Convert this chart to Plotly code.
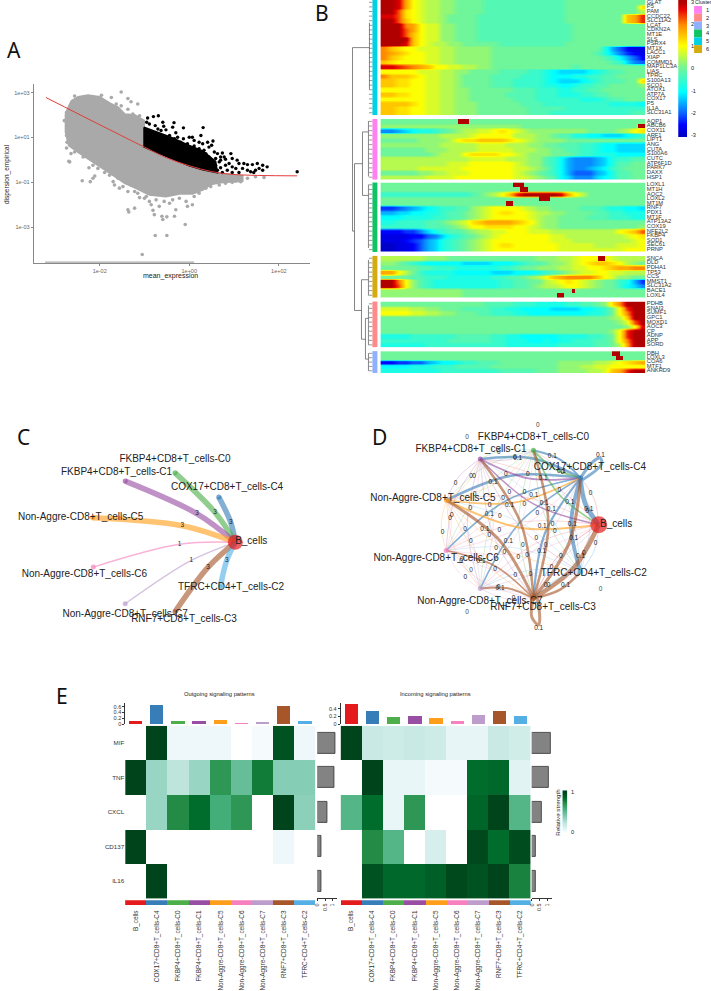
import plotly.graph_objects as go

W, H = 711, 991
SANS = "Liberation Sans"

# ---------- Panel A data (log10 of mean expression / empirical dispersion) ----------
GREY_CLOUD_LOGX = [-2.70,-2.63,-2.48,-2.26,-2.0,-1.78,-1.59,-1.44,-1.22,-1.01,-1.01,-0.59,-0.15,0.22,0.67,1.19,1.19,0.74,0.48,0.30,0.07,-0.22,-0.52,-0.89,-1.19,-1.44,-1.70,-1.93,-2.22,-2.48,-2.69,-2.76,-2.76]
GREY_CLOUD_LOGY = [2.34,2.63,2.81,2.88,2.81,2.53,2.34,2.04,2.0,1.75,0.57,0.13,-0.21,-0.41,-0.59,-0.71,-0.94,-1.0,-1.09,-1.34,-1.51,-1.51,-1.63,-1.56,-1.26,-1.04,-0.68,-0.38,-0.01,0.35,0.65,1.24,2.04]
GREY_LOGX = [-1.52,-1.96,-1.74,-1.37,-1.30,-1.15,-2.39,-2.21,-2.15,-2.11,-2.67,-2.69,-2.64,-2.74,-2.24,-2.0,-1.89,-1.78,-1.67,-1.56,-1.37,-1.11,-0.96,-0.85,-0.67,-0.44,-0.30,-0.04,0.07,-1.37,-1.35,-1.22,-0.81,-0.78,-0.61,-0.59,-0.50,-0.33,-0.09,-0.76,-0.50,-1.05,1.67,1.48,1.30,1.04,
             -2.56,-2.37,-2.43,-2.15,-2.04,-1.85,-1.70,-1.59,-1.48,-1.30,-1.22,-1.15,-1.0,-0.89,-0.74,-0.56,-0.37,-0.22,-0.07,0.11,0.22,0.37,0.48,0.67,0.81,0.96,1.15,-2.56,-1.63,-1.52,-1.37,-1.26,-1.11,-2.74,-2.79,-2.74,-2.73]
GREY_LOGY = [3.03,2.88,2.78,2.74,2.59,2.49,-0.93,-0.97,-0.82,-0.72,-0.09,-0.06,0.28,0.53,-0.35,-0.16,-0.56,-0.68,-1.12,-1.26,-1.41,-1.68,-1.63,-2.0,-2.07,-1.93,-2.22,-2.07,-2.0,-2.22,-2.32,-2.15,-2.25,-2.44,-2.51,-2.66,-2.54,-2.51,-2.88,-3.37,-3.37,-4.22,-0.78,-0.75,-0.82,-0.94,
             0.35,0.13,0.43,-0.24,-0.38,-0.38,-0.97,-0.82,-1.19,-1.12,-1.41,-1.49,-1.71,-1.85,-1.78,-1.85,-1.78,-1.71,-1.85,-1.63,-1.49,-1.26,-1.19,-1.12,-1.04,-1.0,-0.97,2.85,2.49,2.41,2.26,2.04,1.97,2.12,1.75,1.09,0.79]
BOTTOM_RUN_LOGX = [-3.22, 0.11]
BOTTOM_RUN_LOGY = [-4.57, -4.57]
BLACK_CLOUD_LOGX = [-1.01,-0.70,-0.41,0.0,0.30,0.59,0.63,0.30,0.0,-0.44,-0.81,-1.01]
BLACK_CLOUD_LOGY = [1.46,1.24,1.01,0.65,0.40,-0.07,-0.57,-0.44,-0.26,0.09,0.38,0.57]
BLACK_LOGX = [-0.93,-0.95,-0.80,-0.69,-0.76,-0.59,-0.57,-0.34,-0.37,-0.63,-0.52,-0.30,-0.13,0.31,0.26,-0.26,-0.13,0.07,0.11,0.53,0.50,0.44,0.33,0.63,0.74,0.59,0.78,0.81,0.96,0.89,1.07,1.11,0.96,0.70,0.59,1.19,1.30,1.41,1.52,1.64,1.74,1.64,1.30,1.44,1.48,1.11,0.96,0.74,2.41,0.30,0.19,-0.04,-0.22,0.48,
              -0.89,-0.70,-0.44,-0.33,-0.19,-0.07,0.11,0.22,0.37,0.44,0.56,0.48,0.67,0.70,0.81,0.63,0.85,1.04,1.22,1.37,1.56,0.70,0.93,0.41,0.22,0.0,-0.56,-0.74]
BLACK_LOGY = [1.87,1.68,1.93,1.97,1.53,1.68,1.50,1.66,1.46,1.31,1.34,1.21,1.43,1.44,1.09,1.01,0.94,1.01,0.87,0.84,0.65,0.57,0.43,0.28,0.31,0.06,0.13,0.03,0.06,-0.16,-0.01,-0.16,-0.31,-0.35,-0.24,-0.38,-0.21,-0.21,-0.16,-0.24,-0.31,-0.46,-0.46,-0.56,-0.46,-0.56,-0.56,-0.56,-0.53,0.72,0.28,0.72,0.57,-0.24,
              1.60,1.38,1.09,0.94,0.79,0.65,0.62,0.50,0.28,0.13,0.35,-0.09,-0.09,-0.01,-0.24,-0.46,-0.46,-0.38,-0.16,-0.53,-0.38,0.13,0.28,0.79,0.79,1.01,0.87,1.16]
FIT_LOGX = [-3.2,-1.0,-0.5,0.0,0.5,1.0,2.41]
FIT_LOGY = [2.78,0.57,0.09,-0.26,-0.52,-0.65,-0.71]

# ---------- Panel B data: level letters a..y stand for -3..3 in steps of 0.25 ----------
LEVELS = {c: -3 + 0.25 * i for i, c in enumerate("abcdefghijklmnopqrstuvwxy")}
GENES_1 = ["GLAT","P5","PAM","CCDC22","SLC11A2","LCAT","CDKN2A","MT1E","SLS","PSRX4","MT1X","LACC1","XIAP","COMMD1","MAP1LC3A","LIAS","TPRC","S100A13","SCO1","ATOX1","ATP7A","COX17","P5","IL1A","SLC31A1"]
ROWS_1 = [
 "yyxtqp oonnmm mmllll llllll lmmmmm mmmmmm",
 "yyxtqp oonnmm mmllll llllll lmmmmm mmmmmr",
 "yyvrqp oonnmm mmllll llllll lmmmmm mmmmmo",
 "xxvrqp oonmmm mlllll llllll lmmmmm mmmstw",
 "yyvsqp oonmmm mlllll llllll lmmmmm mmmstw",
 "yyyutq ppnnmm mlllll llllll llmmmm mmmmmm",
 "yyyvtq ppnnmm mlllll llllll llmmmm mmmmmm",
 "yyyvsq ppnnmm mlllll llllll llmmmm mmmmmm",
 "yyyysq ppnnmm mlllll llllll llmmmm mmmmmm",
 "yyyxsq poonnm mmmmll llllll lmmmmm mmmmmm",
 "usrqqp ppoonn nnnmmm mmmmmm mmmmmm jgecbb",
 "utsrqq ppoonn nnnmmm mmmmmm mmmmml jhfdcb",
 "usrqqq ppoonn nnnmmm mmmmmm mmmmmm lkigec",
 "srqqqq ppoonn nnnmmm mmmmmm mmmmmm mlkhfe",
 "xxwvut sqqppo onnmmm mmmmmm mmlmmm mmmmmm",
 "qqqqqp ppoonn mmmmll llkkji hhhhij kllmmm",
 "usssrq ppoonm mmmlll lkkkji iijjkk llmmmm",
 "ssrrqq ppoonm mmmlll kkkkji hhhijk lllmmr",
 "ssrrqq ppoonm mmmlll kkkkjj iijkkl lmmmmn",
 "qqqqqq ppoonn mmmmmm lllkkk jjkkll mmmmmm",
 "ssrrqq ppoonn mmmmml lllkkk jjjkkl lmmmmm",
 "qqqqqq ppoonn mmmmmm lllkkk kkkjjj kllmmm",
 "ssssrq ppoonn nmmmmm mlllkk kkkkkk kjjjji",
 "ssrrqq ppoonn nmmmmm mmllll lkkkkk kkkkkk",
 "ssrrqq ppoonn nmmmmm mmlllk kkkkkk kkkkll",
]
GENES_2 = ["AQP1","ABCB6","COX11","ARF1","LIPT1","ANG","CUTA","S100A6","CUTC","ATP6F1D","PARK7","DAXX","HSP1"]
ROWS_2 = [
 "mmmmmm mmmmmm mmmmmm mmmmmm mmmmmm mmmmmm",
 "nnnnnn nnnnnn nnnnnn nmmmmm mmmmmm mmmmmq",
 "ffghij jklmno oppqrq ponnnn nnnnmm mmnoqr",
 "nnnnnn nnoooo pqqqqq ooonnm lljjii hhhijk",
 "mmmmmn nnnoqr rssssr qponnn nmmmmm mmmmmm",
 "nnnnnn nnoooo oppppo oonnmm lllkkj iihhhh",
 "mmmmmm nnnooo oppppp ooonnm mllkkj iihhhh",
 "mmmmmm mnoooq rrrrqq ponnnm mmlkkj jjiiii",
 "oooooo oooooo pppppo oonnlk igfffg hjkkll",
 "oooooo oooppp qqqqqq ponnlk igfffg hjllmm",
 "ooooop pppppq qqqqqq pponmk igffgh iklmmm",
 "mmmmmn nooppp qqqqqq ponmlk igeeeg hjllmm",
 "oooooo ppppqq qqqqqq pponml ihfffh ijllmm",
]
GENES_3 = ["LOXL1","MT1H","AOC2","LOXL2","MT1M","RNF7","PDX1","MT1F","ATP13A2","COX19","NFE2L2","FKBP4","SOD1","SEC61","PRNP"]
ROWS_3 = [
 "mmmmmm mmmmmm mmmmmm mmmmmm mmmmmm mmmmmm",
 "mmmmmm mmmmmm mmmmmm mmmmmm mmmmmm mmmmmm",
 "kkkkkk kkkkkk lmnoqs wyyyyy xtqomm mmmmmm",
 "mmmmmm mmmmmm mmmmmm mmmmmm mmmmmm mmmmmm",
 "mmmmmm mmmmmm mmmmmm mmmmmm mmmmmm mmmmmm",
 "ddefgh ijkkll nopqqq qponnm mmmlll kjjiih",
 "gghhii jjkllm nopqrr qqpoon nmmmml lkkjjj",
 "iiijjj jkkllm nopqqq qqponn mmmmll lkkkjj",
 "jjkkkk llmnop rstttt srqonn mmmmmm mmmmmm",
 "kkkkkk lllmno qqrrrr qqponn mmmmmm mmmmmn",
 "cccddf hjkllm nooppq qqpppo oooooo ooqrsv",
 "bbbbcc efhjkl mnopqq qqqqqp pooooo ooopqr",
 "bbbcde ghjklm nopqqq qqqqqp ppoooo oooopq",
 "aabbce ghjklm nopqrr qqqqqq pppppo oopppq",
 "aabbce ghjklm nopqqq qqqqqq pppppp pppqqq",
]
GENES_4 = ["SNCA","DLD","PDHA1","TP53","CCS","MMST1","SLC31A2","BACE1","LOXL4"]
ROWS_4 = [
 "oooooo nnnmmm mmmmmm mmmnnn oopqqq qpoooo",
 "nnmlkj iiiiih hhhiii jkllmn nopqrs srqonm",
 "mmmmml lkkkjj jjjjkk lmmnnn ooppqq rsttuu",
 "ttqomk jjjjii iiihhh iiijkl mnoppq qppooo",
 "mmmmll kkkjjj jjjkkl lmnoqs tuuuus qpnnmm",
 "yyuqnl kjjjjj jjjjkk llmmop qrqpon mmkjgd",
 "yyvqnl kjjjjj jjjjkk llmnoo pqqpon mmkihf",
 "nnnnnn nnnnnm mmmmmm mmmmmm mmmmmm mmmmmm",
 "nnnnnn nnnnnm mmmmmm mmmmmm mmmmmm mmmmmm",
]
GENES_5 = ["PDHB","SNAI3","SUMF1","GPC1","MOXD1","AOC3","CP","ADNP","APP","SORD"]
ROWS_5 = [
 "mmmmmm mmmmmm mmllll kkkjjj jkkllm nruyyy",
 "ppppoo nnmmml lllkkj jiiiih hhhiij kmqwyy",
 "qqqqpp oonnmm mllkkk jjiiii iiiijj kmquyy",
 "mmmmmm mmmmmm mmmmmm mmmmmm mmmmmm mnosyy",
 "mmmmmm mmmmmm mmmmmm mmmmmm mmmmmm mmnpvy",
 "mmmmmm mmmmmm mmmmmm mmmmmm mmmmmm mmmnqx",
 "mmmmmm mmmmmm mmmmmm mmmmmm mmmmmm mnqwyy",
 "jjjjkk kkkkll lllkkj jiiiii jjjjkk lmqwyy",
 "kkkkkk kkklll lllkkj jjiiji jjkkkl lmquyy",
 "jjjjjj kkkkkk kkkkkj jjjjjj kkkkkl lmotyy",
]
GENES_6 = ["DBH","LOXL3","COA6","MTF1","ANKRD9"]
ROWS_6 = [
 "mmmmmm mmmmmm mmmmmm mmmmmm mmmmmm mmmmmm",
 "mmmmmm mmmmmm mmmmmm mmmmmm mmmmmm mmmmmm",
 "ccddee ghiijk klllmm mmmmmm nnnnno opqrst",
 "iiiijj jkkkll lllmmm mmmmmm nnnoop pqqqqq",
 "jjjjjj jjkkkk kkkkll lllmmm nnnnoo pstwyy",
]
# sharp expression peaks: block, row, first and last column on a 72-column grid
PEAKS = [(1,0,21,24),(1,1,70,72),(2,0,36,39),(2,1,38,40),(2,3,43,46),(2,4,34,36),
         (3,0,59,61),(3,7,52,53),(3,8,48,50),(5,0,63,65),(5,1,64,66)]
BLOCKS = [(GENES_1,ROWS_1,0,116,"#00D2E6"),(GENES_2,ROWS_2,120,181,"#FF80F0"),(GENES_3,ROWS_3,184,254,"#10C463"),
          (GENES_4,ROWS_4,258,300,"#D4AC10"),(GENES_5,ROWS_5,304,350,"#FF8A8A"),(GENES_6,ROWS_6,354,376,"#8FB0FF")]
CLUSTER_IDS = ["1","2","3","4","5","6"]
CLUSTER_COLORS = ["#FF80F0","#FF8A8A","#8FB0FF","#10C463","#00D2E6","#D4AC10"]
HEAT_SCALE = [[0,"#0000c8"],[0.08,"#0000ff"],[0.17,"#0a64ff"],[0.33,"#00ffff"],[0.5,"#6ff59a"],[0.67,"#ffff00"],[0.83,"#ff8c00"],[0.95,"#e60000"],[1,"#b00000"]]
HEAT_BAR_VALUES = [-3,-2.5,-2,-1.5,-1,-.5,0,.5,1,1.5,2,2.5,3]
DENDRO = [(351,48,351,233),(351,48,368,48),(368,23,368,90),(351,233,353,233),(353,165,353,313),(353,165,361,165),(361,133,361,197),
          (361,133,367,133),(367,122,367,178),(361,197,367,197),(367,186,367,250),(353,313,360,313),(360,282,360,342),(360,282,367,282),
          (367,262,367,298),(360,342,364,342),(364,321,364,362),(364,321,367,321),(367,308,367,348),(364,362,367,362),(367,356,367,374)]

# ---------- Panels C / D data ----------
CELL_NAMES = ["B_cells","COX17+CD8+T_cells-C4","FKBP4+CD8+T_cells-C0","FKBP4+CD8+T_cells-C1","Non-Aggre-CD8+T_cells-C5","Non-Aggre-CD8+T_cells-C6","Non-Aggre-CD8+T_cells-C7","RNF7+CD8+T_cells-C3","TFRC+CD4+T_cells-C2"]
CELL_COLORS = ["#E41A1C","#377EB8","#4DAF4A","#984EA3","#FF9E1B","#F781BF","#BC9DCC","#A65628","#54B0E4"]
C_NODE_X = [233.3,216.7,172.7,122.7,90,90.7,122.7,172.7,218.3]
C_NODE_Y = [546.7,501,476.7,485,522,571.7,608.7,616.7,591.7]
C_MID_X = [None,228.7,213,195,180,177.3,189,206,224.7]
C_MID_Y = [None,526.7,516.7,518,530,548.7,565,571.7,565]
C_WEIGHT = [None,3,3,3,3,1,1,3,3]
C_LABEL_X = [249.3,225,172.7,114,78,81.7,122.7,181.7,229]
C_LABEL_Y = [546,491.7,463.3,476,521.7,578.7,620,625,592]
D_NODE_X = [598.3,580,532.7,479.3,445.3,445,479.3,532.7,580]
D_NODE_Y = [529,481.7,454,462.7,504.3,555,593.3,603.3,576.7]
D_LABEL_X = [615.7,589.3,532.7,470,431.7,435,479,542.3,593.3]
D_LABEL_Y = [529,471,440.7,453.3,502.7,563.3,606.7,612.3,577.7]
# line widths of the interaction matrix, sources in rows, targets in columns
D_WIDTH = [
 [0,.5,.4,.4,.4,.4,.4,.7,.5],
 [4.5,0,2,2.6,2.6,1.6,1.6,2.2,3.8],
 [1.6,1.6,0,.5,.5,.5,.5,.6,.6],
 [1.5,1.8,.6,0,.6,.6,.6,.6,.6],
 [2,1.6,.6,.6,0,.6,.6,.7,.6],
 [.6,.6,.5,.6,.5,0,.5,.6,.5],
 [.7,.7,.5,.7,.6,.5,0,.7,.5],
 [4.5,3.2,2.6,2.6,3,1.6,2,0,2.6],
 [.8,.6,.5,.5,.5,.5,.6,.7,0],
]
D_LOOP_X = [None,597,None,None,None,None,None,535,None]
D_LOOP_Y = [None,462,None,None,None,None,None,630,None]
D_ZERO_LABEL_X = [537,466,600,466,470]
D_ZERO_LABEL_Y = [429,441,594,617,575]

# ---------- Panel E data ----------
SIGNALS = ["MIF","TNF","CXCL","CD137","IL16"]
OUT_MATRIX = [
 [0,1,.05,.05,.05,0,.03,.95,.05],
 [1,.35,.25,.35,.7,.5,.8,.4,.4],
 [0,.35,.75,.85,.6,.7,0,1,.38],
 [1,0,0,0,0,0,0,.05,0],
 [0,1,0,0,0,0,0,0,0],
]
IN_MATRIX = [
 [1,.2,.18,.2,.18,.08,.08,.2,.17],
 [0,1,.07,.07,.03,.03,.85,.87,.1],
 [.55,.85,.07,.7,0,0,.88,1,.55],
 [0,.75,.55,0,.15,0,.98,.85,.97],
 [0,.95,.87,.87,.9,.98,.95,1,.78],
]
OUT_TOP = [.12,.68,.11,.12,.14,.07,.08,.65,.11]
IN_TOP = [.53,.36,.19,.22,.16,.08,.26,.35,.22]
OUT_SIDE = [1.2,1.1,.63,.28,.26]
IN_SIDE = [1.23,1.13,.63,.28,.26]
BUGN = [[0,"#ffffff"],[.05,"#eef8fb"],[.25,"#bde5dc"],[.4,"#85cdb5"],[.6,"#44ae78"],[.75,"#238b45"],[.85,"#006d2c"],[1,"#00441b"]]
STRENGTH_BAR_VALUES = [0,.05,.25,.4,.6,.75,.85,1]

fig = go.Figure()
layout = {}
anns = []
shapes = []
n_axes = 0


def axes(l, t, r, b, xa=None, ya=None):
    global n_axes
    n_axes += 1
    s = "" if n_axes == 1 else str(n_axes)
    base = dict(visible=False, fixedrange=True, showgrid=False, zeroline=False)
    xd = dict(base, domain=[l / W, r / W], anchor="y" + s)
    yd = dict(base, domain=[1 - b / H, 1 - t / H], anchor="x" + s)
    xd.update(xa or {})
    yd.update(ya or {})
    layout["xaxis" + s] = xd
    layout["yaxis" + s] = yd
    return "x" + s, "y" + s


def note(x, y, text, size=7, color="#222222", angle=0, family=SANS, xanchor="center"):
    anns.append(dict(x=x / W, y=1 - y / H, xref="paper", yref="paper", text=text, showarrow=False, textangle=angle,
                     font=dict(size=size, color=color, family=family), xanchor=xanchor, yanchor="middle"))


# overlay in picture units, for networks and the dendrogram
ox, oy = axes(0, 0, W, H, dict(range=[0, W]), dict(range=[H, 0]))


def otext(xs, ys, texts, size, color="#222222"):
    fig.add_trace(go.Scatter(x=xs, y=ys, text=texts, mode="text", xaxis=ox, yaxis=oy, hoverinfo="skip",
                             textposition="middle center", textfont=dict(size=size, color=color, family=SANS)))


def rgba(hex_color, a):
    return "rgba(%d,%d,%d,%.2f)" % (int(hex_color[1:3], 16), int(hex_color[3:5], 16), int(hex_color[5:7], 16), a)


def color_strip(l, t, r, b, values, y_range, ticks, caxis):
    ax, ay = axes(l, t, r, b, dict(range=[-.5, .5]),
                  dict(range=y_range))
    fig.add_trace(go.Heatmap(z=[[v] for v in values], x=[0], y=values, coloraxis=caxis, zsmooth="best", xaxis=ax, yaxis=ay, hoverinfo="skip"))
    span = (b - t) / (y_range[1] - y_range[0])
    for v in ticks:
        note(r + 1.5, t + (y_range[1] - v) * span, "%g" % v, size=5.6, xanchor="left")


for letter, x, y in [("A", 11, 50), ("B", 320, 13), ("C", 21, 441), ("D", 378, 441), ("E", 59, 702)]:
    note(x, y, letter, size=21, color="#111111", family="Noto Sans")

# ---------- Panel A ----------
tick_a = dict(size=5.5, color="#666666", family=SANS)
ax_a, ay_a = axes(31, 85, 308, 265,
    dict(visible=True, type="log", range=[-3.47, 2.69], tickvals=[1e-2, 1, 100], ticktext=["1e-02", "1e+00", "1e+02"],
         showline=True, linecolor="#888888", linewidth=1.3, ticks="outside", ticklen=2, tickcolor="#888888", tickfont=tick_a),
    dict(visible=True, type="log", range=[-4.59, 3.37], tickvals=[1e-3, 1e-1, 10, 1000], ticktext=["1e-03", "1e-01", "1e+01", "1e+03"],
         showline=True, linecolor="#888888", linewidth=1.3, ticks="outside", ticklen=2, tickcolor="#888888", tickfont=tick_a))
p10 = lambda v: [10 ** a for a in v]
GREY, BLACKC = "#a9a9a9", "#000000"
fig.add_trace(go.Scatter(x=p10(GREY_CLOUD_LOGX + GREY_CLOUD_LOGX[:1]), y=p10(GREY_CLOUD_LOGY + GREY_CLOUD_LOGY[:1]), mode="lines", fill="toself",
                         fillcolor=GREY, line=dict(color=GREY, width=2), xaxis=ax_a, yaxis=ay_a, hoverinfo="skip"))
fig.add_trace(go.Scatter(x=p10(BOTTOM_RUN_LOGX), y=p10(BOTTOM_RUN_LOGY), mode="lines", line=dict(color=GREY, width=2), xaxis=ax_a, yaxis=ay_a, hoverinfo="skip"))
fig.add_trace(go.Scatter(x=p10(GREY_LOGX), y=p10(GREY_LOGY), mode="markers", marker=dict(color=GREY, size=3.6), xaxis=ax_a, yaxis=ay_a, hoverinfo="skip"))
fig.add_trace(go.Scatter(x=p10(BLACK_CLOUD_LOGX + BLACK_CLOUD_LOGX[:1]), y=p10(BLACK_CLOUD_LOGY + BLACK_CLOUD_LOGY[:1]), mode="lines", fill="toself",
                         fillcolor=BLACKC, line=dict(color=BLACKC, width=1.5), xaxis=ax_a, yaxis=ay_a, hoverinfo="skip"))
fig.add_trace(go.Scatter(x=p10(BLACK_LOGX), y=p10(BLACK_LOGY), mode="markers", marker=dict(color=BLACKC, size=3.4), xaxis=ax_a, yaxis=ay_a, hoverinfo="skip"))
fig.add_trace(go.Scatter(x=p10(FIT_LOGX), y=p10(FIT_LOGY), mode="lines", line=dict(color="#e23c3c", width=1, shape="spline"), xaxis=ax_a, yaxis=ay_a, hoverinfo="skip"))
note(168, 278, "mean_expression", size=7)
note(3.5, 175, "dispersion_empirical", size=6.5, angle=-90)

# ---------- Panel B ----------
for bi, (genes, rows, top, bottom, col) in enumerate(BLOCKS):
    n = len(genes)
    ax, ay = axes(379, top, 645, bottom, dict(range=[-0.5, 35.5]), dict(range=[n - 0.5, -0.5]))
    z_rows = [[LEVELS[c] for c in r.replace(" ", "").ljust(36, "m")[:36]] for r in rows]
    # each gene row is held over two sample lines so the smoothing only softens its edges
    z, ys2 = [], []
    for i, line in enumerate(z_rows):
        z += [line, line]
        ys2 += [i - 0.25, i + 0.25]
    fig.add_trace(go.Heatmap(z=z, x=[c - 0.5 for c in range(37)], y=[v - 0.25 for v in ys2] + [n - 0.5], coloraxis="coloraxis", zsmooth="best",
                             xaxis=ax, yaxis=ay, hoverinfo="skip"))
    peak_z = [[None] * 72 for _ in genes]
    found = False
    for b, r, c0, c1 in PEAKS:
        if b == bi:
            found = True
            for c in range(c0, c1):
                peak_z[r][c] = 3
    if found:
        fig.add_trace(go.Heatmap(z=peak_z, x=[i / 2 - 0.25 for i in range(72)], y=list(range(n)), coloraxis="coloraxis", xaxis=ax, yaxis=ay, hoverinfo="skip"))
    shapes.append(dict(type="rect", xref=ox, yref=oy, x0=371, x1=376, y0=top, y1=bottom, fillcolor=col, line=dict(width=0)))
    h = (bottom - top) / n
    xs, ys = [], []
    for i in range(n):
        xs += [367.5, 371, None]
        ys += [top + (i + .5) * h, top + (i + .5) * h, None]
    fig.add_trace(go.Scatter(x=xs, y=ys, mode="lines", line=dict(color="#555555", width=.6), xaxis=ox, yaxis=oy, hoverinfo="skip"))
    fig.add_trace(go.Scatter(x=[646.5] * n, y=[top + (i + .5) * h for i in range(n)], text=genes, mode="text", textposition="middle right",
                             textfont=dict(size=5.8, color="#333333", family=SANS), xaxis=ox, yaxis=oy, hoverinfo="skip"))
dx, dy = [], []
for a, b, c, d in DENDRO:
    dx += [a, c, None]
    dy += [b, d, None]
fig.add_trace(go.Scatter(x=dx, y=dy, mode="lines", line=dict(color="#666666", width=.8), xaxis=ox, yaxis=oy, hoverinfo="skip"))
for i, (cid, col) in enumerate(zip(CLUSTER_IDS, CLUSTER_COLORS)):
    shapes.append(dict(type="rect", xref=ox, yref=oy, x0=694, x1=702, y0=6 + i * 7.9, y1=6 + (i + 1) * 7.9, fillcolor=col, line=dict(width=0)))
    note(704, 10 + i * 7.9, cid, size=5.6, xanchor="left")
note(693, 2.5, "Cluster", size=5.2, xanchor="left")
color_strip(678, 0, 687, 138, HEAT_BAR_VALUES, [-3.09, 3.09], [-3, -2, -1, 0, 1, 2, 3], "coloraxis")

# ---------- Panel C ----------
for i in range(1, 9):
    w = 5.5 if C_WEIGHT[i] == 3 else 1.4
    fig.add_trace(go.Scatter(x=[C_NODE_X[i], C_MID_X[i], C_NODE_X[0]], y=[C_NODE_Y[i], C_MID_Y[i], C_NODE_Y[0]], mode="lines",
                             line=dict(color=rgba(CELL_COLORS[i], .62), width=w, shape="spline", smoothing=1), xaxis=ox, yaxis=oy, hoverinfo="skip"))
fig.add_trace(go.Scatter(x=C_NODE_X, y=C_NODE_Y, mode="markers", xaxis=ox, yaxis=oy, hoverinfo="skip",
                         marker=dict(color=CELL_COLORS, size=[15] + [5] * 8, line=dict(width=0))))
otext(C_MID_X[1:], C_MID_Y[1:], [str(v) for v in C_WEIGHT[1:]], 6.5)
otext(C_LABEL_X, C_LABEL_Y, CELL_NAMES, 10)

# ---------- Panel D ----------
edge_x, edge_y, edge_t = [], [], []
for i in range(9):
    for j in range(9):
        w = D_WIDTH[i][j]
        if i == j:
            continue
        x0, y0, x1, y1 = D_NODE_X[i], D_NODE_Y[i], D_NODE_X[j], D_NODE_Y[j]
        mx = (x0 + x1) / 2 - (y1 - y0) * .1
        my = (y0 + y1) / 2 + (x1 - x0) * .1
        fig.add_trace(go.Scatter(x=[x0, mx, x1], y=[y0, my, y1], mode="lines", xaxis=ox, yaxis=oy, hoverinfo="skip",
                                 line=dict(color=rgba(CELL_COLORS[i], .62 if w >= 1.5 else .42), width=w, shape="spline")))
        edge_x.append(mx * .72 + x1 * .28)
        edge_y.append(my * .72 + y1 * .28)
        edge_t.append("0.1" if w >= 1.5 else "0")
for i in range(9):
    if D_LOOP_X[i] is not None:
        x0, y0, lx, ly = D_NODE_X[i], D_NODE_Y[i], D_LOOP_X[i], D_LOOP_Y[i]
        sx = 1 if lx > x0 else -1
        fig.add_trace(go.Scatter(x=[x0, lx - 4, lx + 3 * sx, lx + 4, x0 + (4 if i == 7 else 2)], y=[y0, ly + (3 if i == 1 else -8), ly, ly + (6 if i == 1 else -8), y0 + (0 if i == 7 else 2)],
                                 mode="lines", xaxis=ox, yaxis=oy, hoverinfo="skip", line=dict(color=rgba(CELL_COLORS[i], .6), width=3, shape="spline")))
        edge_x.append(lx + 3)
        edge_y.append(ly - (3 if i == 1 else -3))
        edge_t.append("0.1")
fig.add_trace(go.Scatter(x=D_NODE_X, y=D_NODE_Y, mode="markers", xaxis=ox, yaxis=oy, hoverinfo="skip",
                         marker=dict(color=CELL_COLORS, size=[17] + [5] * 8, line=dict(width=0))))
otext(edge_x, edge_y, edge_t, 6.5)
otext(D_ZERO_LABEL_X, D_ZERO_LABEL_Y, ["0"] * len(D_ZERO_LABEL_X), 6.5, "#444444")
otext(D_LABEL_X, D_LABEL_Y, CELL_NAMES, 10)

# ---------- Panel E ----------
tick_e = dict(size=5.5, color="#333333", family=SANS)
row_e = dict(size=6.2, color="#333333", family=SANS)
idx = list(range(9))


def panel_e(l, r, side_l, side_r, matrix, top_vals, side_vals, top_range, top_ticks, show_rows):
    ax, ay = axes(l, 731.7, r, 905.7, dict(range=[-.5, 8.5]),
                  dict(visible=show_rows, range=[4.5, -.5], tickvals=list(range(5)), ticktext=SIGNALS, ticks="", showline=False, tickfont=row_e))
    fig.add_trace(go.Heatmap(z=matrix, x=idx, y=list(range(5)), coloraxis="coloraxis2", xaxis=ax, yaxis=ay, hoverinfo="skip"))
    ax, ay = axes(l, 708.3, r, 730, dict(range=[-.5, 8.5]),
                  dict(visible=True, range=top_range, tickvals=top_ticks, ticktext=[("%g" % v) for v in top_ticks], showline=True, linecolor="#333333", linewidth=.7,
                       ticks="outside", ticklen=2, tickcolor="#333333", tickwidth=.7, tickfont=tick_e))
    fig.add_trace(go.Bar(x=idx, y=top_vals, width=.63, marker=dict(color=CELL_COLORS, line=dict(width=0)), xaxis=ax, yaxis=ay, hoverinfo="skip"))
    ax, ay = axes(l, 907.7, r, 912.3,
                  dict(visible=True, range=[-.5, 8.5], tickvals=idx, ticktext=CELL_NAMES, tickangle=-90, ticks="outside", ticklen=2, tickcolor="rgba(0,0,0,0)",
                       showline=False, tickfont=dict(size=6.4, color="#333333", family=SANS)),
                  dict(range=[0, 1]))
    fig.add_trace(go.Bar(x=idx, y=[1] * 9, width=1, marker=dict(color=CELL_COLORS, line=dict(width=0)), xaxis=ax, yaxis=ay, hoverinfo="skip"))
    ax, ay = axes(side_l, 731.7, side_r, 905.7,
                  dict(visible=True, range=[0, 1.3], tickvals=[0, .5, 1], ticktext=["0", "0.5", "1"], tickangle=-90, showline=True, linecolor="#333333", linewidth=.7,
                       ticks="outside", ticklen=2, tickcolor="#333333", tickwidth=.7, tickfont=tick_e),
                  dict(range=[4.5, -.5]))
    fig.add_trace(go.Bar(y=list(range(5)), x=side_vals, orientation="h", width=.6, marker=dict(color="#838383", line=dict(color="#333333", width=.8)), xaxis=ax, yaxis=ay, hoverinfo="skip"))


panel_e(122.7, 314, 315.7, 335.7, OUT_MATRIX, OUT_TOP, OUT_SIDE, [0, .746], [0, .2, .4, .6], True)
panel_e(339, 530, 531, 551, IN_MATRIX, IN_TOP, IN_SIDE, [0, .56], [0, .2, .4], False)
note(217.7, 699.7, "Outgoing signaling patterns", size=5.8)
note(434, 699.7, "Incoming signaling patterns", size=5.8)
note(556.7, 819, "Relative strength", size=6.2, angle=-90)
color_strip(561.7, 796.7, 566.7, 841.7, STRENGTH_BAR_VALUES, [-0.07, 1.05], [0, 1], "coloraxis2")

layout.update(
    width=W, height=H, autosize=False, margin=dict(l=0, r=0, t=0, b=0, pad=0), paper_bgcolor="white", plot_bgcolor="rgba(0,0,0,0)",
    showlegend=False, annotations=anns, shapes=shapes, bargap=0,
    coloraxis=dict(colorscale=HEAT_SCALE, cmin=-3, cmax=3, showscale=False),
    coloraxis2=dict(colorscale=BUGN, cmin=0, cmax=1, showscale=False),
)
fig.update_layout(**layout)
fig.write_html("out.html", config={"displayModeBar": False}, post_script="document.body.style.margin='0';document.body.style.overflow='hidden';")
